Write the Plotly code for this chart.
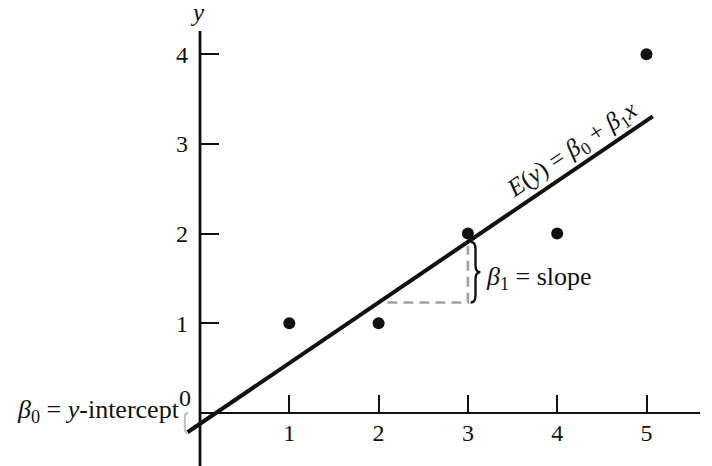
import plotly.graph_objects as go

# ---- data ----
x_vals = [1, 2, 3, 4, 5]
y_vals = [1, 1, 2, 2, 4]
beta0 = -0.12          # intercept of drawn line
beta1 = 0.676          # slope of drawn line
line_x_ends = [-0.14, 5.07]
x_ticks = [1, 2, 3, 4, 5]
y_ticks = [1, 2, 3, 4]
slope_run = [2, 3]     # x positions used for slope triangle

SERIF = "Liberation Serif, Times New Roman, serif"

def fline(x):
    return beta0 + beta1 * x

fig = go.Figure()

# regression line
fig.add_trace(go.Scatter(
    x=line_x_ends, y=[fline(v) for v in line_x_ends],
    mode="lines", line=dict(color="#111", width=4),
    hoverinfo="skip", showlegend=False))

# slope triangle (dashed)
xa, xb = slope_run
ya, yb = fline(xa), fline(xb)
fig.add_trace(go.Scatter(
    x=[xa + 0.1, xb, xb], y=[ya, ya, yb - 0.05],
    mode="lines", line=dict(color="#a0a0a0", width=2.6, dash="10px,6px"),
    hoverinfo="skip", showlegend=False))

# data points
fig.add_trace(go.Scatter(
    x=x_vals, y=y_vals, mode="markers",
    marker=dict(color="#111", size=12),
    hoverinfo="skip", showlegend=False))

# axis lines
shapes = [
    dict(type="line", x0=0, x1=5.6, y0=0, y1=0, xref="x", yref="y",
         line=dict(color="#111", width=2.2)),
    dict(type="line", x0=0, x1=0, y0=-0.7, y1=4.26, xref="x", yref="y",
         line=dict(color="#111", width=2.8)),
]

def right_brace(xc, y0, y1, w):
    ym = (y0 + y1) / 2
    d = (y1 - y0) * 0.12
    return (f"M {xc},{y0} Q {xc+w},{y0} {xc+w},{y0+d} L {xc+w},{ym-d} "
            f"Q {xc+w},{ym} {xc+2*w},{ym} Q {xc+w},{ym} {xc+w},{ym+d} "
            f"L {xc+w},{y1-d} Q {xc+w},{y1} {xc},{y1}")

shapes.append(dict(type="path", path=right_brace(xb + 0.03, ya, yb, 0.055),
                   xref="x", yref="y", line=dict(color="#111", width=2.4)))

# faint left bracket at intercept
shapes.append(dict(type="path",
                   path=f"M -0.13,0.0 Q -0.17,0.0 -0.17,-0.05 L -0.17,{beta0-0.05} Q -0.17,{beta0-0.1} -0.14,{beta0-0.1}",
                   xref="x", yref="y", line=dict(color="#bdbdbd", width=2)))

annotations = [
    dict(x=-0.03, y=4.47, text="<i>y</i>", showarrow=False,
         font=dict(family=SERIF, size=25, color="#111")),
    dict(x=-0.17, y=0.17, text="0", showarrow=False,
         font=dict(family=SERIF, size=24, color="#111")),
    dict(x=-0.2, y=0.02, text="<i>β</i><sub>0</sub> = <i>y</i>-intercept",
         xanchor="right", showarrow=False,
         font=dict(family=SERIF, size=26, color="#111")),
    dict(x=3.18, y=1.5, text="<i>β</i><sub>1</sub> = slope",
         xanchor="left", showarrow=False,
         font=dict(family=SERIF, size=26, color="#111")),
    dict(x=4.17, y=2.93, text="<i>E</i>(<i>y</i>) = <i>β</i><sub>0</sub> + <i>β</i><sub>1</sub><i>x</i>",
         textangle=-34, showarrow=False,
         font=dict(family=SERIF, size=25, color="#111")),
]

W, H = 712, 466
x_px0, x_scale = 200.0, 89.3
y_px0, y_scale = 413.0, 89.7
xr = [-x_px0 / x_scale, (W - x_px0) / x_scale]
yr = [(y_px0 - H) / y_scale, y_px0 / y_scale]

fig.update_layout(
    width=W, height=H, margin=dict(l=0, r=0, t=0, b=0, autoexpand=False),
    paper_bgcolor="white", plot_bgcolor="white",
    shapes=shapes, annotations=annotations, showlegend=False,
    xaxis=dict(range=xr, showgrid=False, zeroline=False, showline=False,
               anchor="free", position=(H - y_px0) / H,
               tickvals=x_ticks, ticktext=[str(v) for v in x_ticks],
               ticks="inside", ticklen=18, tickwidth=2.4, tickcolor="#111",
               ticklabelstandoff=3,
               tickfont=dict(family=SERIF, size=24, color="#111"),
               automargin=False, fixedrange=True),
    yaxis=dict(range=yr, showgrid=False, zeroline=False, showline=False,
               anchor="free", position=x_px0 / W,
               tickvals=y_ticks, ticktext=[str(v) for v in y_ticks],
               ticks="inside", ticklen=18, tickwidth=2.4, tickcolor="#111",
               ticklabelstandoff=12,
               tickfont=dict(family=SERIF, size=24, color="#111"),
               automargin=False, fixedrange=True),
)

fig.write_html(
    "out.html",
    config={"displayModeBar": False},
    post_script="document.body.style.margin='0';document.body.style.overflow='hidden';",
)
